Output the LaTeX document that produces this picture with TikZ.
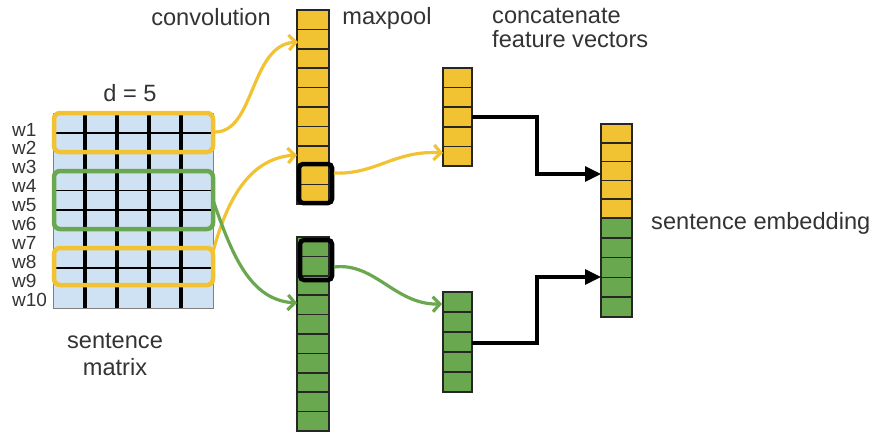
\documentclass[tikz,border=0pt]{standalone}
\usepackage{fontspec}
\setmainfont{Liberation Sans}
\usetikzlibrary{arrows.meta}
\definecolor{yel}{HTML}{F1C232}
\definecolor{grn}{HTML}{6AA84F}
\definecolor{lblue}{HTML}{CFE2F3}
\definecolor{txt}{HTML}{333333}
\begin{document}
\begin{tikzpicture}[x=1pt,y=-1pt,
  lbl/.style={text=txt,font=\fontsize{23.6}{23.6}\selectfont,inner sep=0pt},
  wlbl/.style={text=txt,font=\fontsize{19}{19}\selectfont,inner sep=0pt,anchor=base west},
  cellbox/.style={draw=black!85,line width=1.7pt},
  hibox/.style={line width=4.5pt,rounded corners=6pt},
  selbox/.style={draw=black,line width=4.5pt,rounded corners=4pt},
  yarrow/.style={draw=yel,line width=3.2pt,-{Straight Barb[length=7pt,width=15pt]}},
  garrow/.style={draw=grn,line width=3.2pt,-{Straight Barb[length=7pt,width=15pt]}},
  barrow/.style={draw=black,line width=3.2pt,-{Triangle[length=16pt,width=15pt]}}]
\useasboundingbox (0,0) rectangle (875,432);

% sentence matrix
\fill[lblue] (53,113) rectangle (213,308);
\draw[gray,line width=1pt] (53,113) rectangle (213,308);
\foreach \y in {133,190.5,210,268} \draw[black,line width=1.6pt] (53,\y) -- (213,\y);
\foreach \x in {85,117,149,181} \draw[black,line width=3.2pt] (\x,113) -- (\x,308);
\draw[hibox,draw=yel] (54,113) rectangle (213,152);
\draw[hibox,draw=grn] (54,171) rectangle (213,229);
\draw[hibox,draw=yel] (54,248) rectangle (213,285);

% word labels
\foreach \i in {1,...,10} {
  \node[wlbl] (w\i) at (12,{136+18.9*(\i-1)}) {w\i};
}

% convolution columns
\foreach \k in {0,...,9} {
  \draw[cellbox,fill=yel] (297,{10+19.4*\k}) rectangle (329,{10+19.4*(\k+1)});
  \draw[cellbox,fill=grn] (297,{237+19.4*\k}) rectangle (329,{237+19.4*(\k+1)});
}
\draw[selbox] (299,164) rectangle (332,203);
\draw[selbox] (300,240) rectangle (332,280);

% feature vectors
\foreach \k in {0,...,4} {
  \draw[cellbox,fill=yel] (443,{68+19.6*\k}) rectangle (472,{68+19.6*(\k+1)});
  \draw[cellbox,fill=grn] (443,{292+20*\k}) rectangle (472,{292+20*(\k+1)});
}

% sentence embedding
\foreach \k in {0,...,4} {
  \draw[cellbox,fill=yel] (601,{124+18.8*\k}) rectangle (632,{124+18.8*(\k+1)});
  \draw[cellbox,fill=grn] (601,{218+19.8*\k}) rectangle (632,{218+19.8*(\k+1)});
}

% coordinates
\coordinate (y1s) at (215,132);
\coordinate (y1e) at (298,42);
\coordinate (y2s) at (213,252);
\coordinate (y2e) at (297,155);
\coordinate (gs) at (213,200);
\coordinate (ge) at (297,303);
\coordinate (mys) at (334,173);
\coordinate (mye) at (443,153);
\coordinate (mgs) at (334,267);
\coordinate (mge) at (442,304);
\coordinate (fy) at (472,117);
\coordinate (fg) at (472,343);
\coordinate (ey) at (601,174);
\coordinate (eg) at (601,277);

% connectors
\draw[yarrow] (y1s) .. controls (255,132) and (250,45) .. (y1e);
\draw[yarrow] (y2s) .. controls (228,195) and (252,158) .. (y2e);
\draw[garrow] (gs) .. controls (232,255) and (250,300) .. (ge);
\draw[yarrow] (mys) .. controls (375,175) and (395,150) .. (mye);
\draw[garrow] (mgs) .. controls (375,262) and (395,305) .. (mge);
\draw[barrow] (fy) -- (fy -| 537,0) -- (537,0 |- ey) -- (ey);
\draw[barrow] (fg) -- (fg -| 537,0) -- (537,0 |- eg) -- (eg);

% labels
\node[lbl,anchor=base] (conv) at (211,25) {convolution};
\node[lbl,anchor=base] (maxp) at (387,24) {maxpool};
\node[lbl,anchor=base west] (cat1) at (492,23) {concatenate};
\node[lbl,anchor=base west] (cat2) at (492,47) {feature vectors};
\node[lbl,anchor=base] (dim) at (130,101) {d = 5};
\node[lbl,anchor=base] (sm1) at (115,348) {sentence};
\node[lbl,anchor=base] (sm2) at (115,375) {matrix};
\node[lbl,anchor=base west] (emb) at (651,229) {sentence embedding};
\end{tikzpicture}
\end{document}
